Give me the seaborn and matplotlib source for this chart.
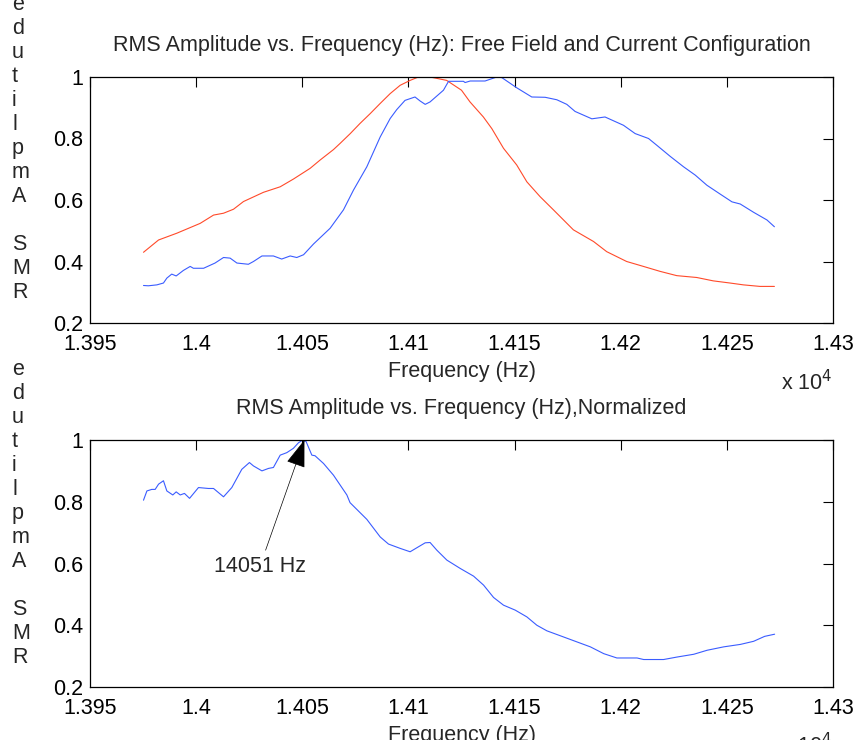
import numpy as np
import pandas as pd
import seaborn as sns
import matplotlib
matplotlib.use("Agg")
import matplotlib.pyplot as plt
from matplotlib.ticker import FixedLocator

# ---- data ----
red_f = [13975.2, 13982.3, 13990.9, 14001.9, 14008.2, 14012.9, 14017.6, 14022.3, 14031.7, 14039.6,
         14045.8, 14053.7, 14058.4, 14064.7, 14067.8, 14072.6, 14077.2, 14082.0, 14086.7, 14091.4,
         14096.1, 14100.8, 14104.7, 14110.2, 14118.0, 14125.0, 14129.0, 14135.3, 14139.3, 14144.8,
         14151.0, 14155.8, 14162.0, 14168.3, 14177.7, 14187.2, 14193.4, 14202.8, 14210.7, 14218.5,
         14226.4, 14235.8, 14243.6, 14251.5, 14257.8, 14265.6, 14272.4]
red_v = [0.430, 0.470, 0.492, 0.524, 0.551, 0.557, 0.570, 0.595, 0.625, 0.643,
         0.668, 0.703, 0.730, 0.764, 0.784, 0.816, 0.849, 0.881, 0.914, 0.946,
         0.973, 0.989, 1.000, 1.000, 0.989, 0.957, 0.919, 0.870, 0.832, 0.768,
         0.714, 0.659, 0.611, 0.568, 0.503, 0.465, 0.432, 0.400, 0.384, 0.368,
         0.354, 0.348, 0.337, 0.330, 0.324, 0.319, 0.319]

blue_f = [13975.2, 13977.5, 13981.5, 13984.6, 13986.2, 13988.5, 13990.6, 13994.0, 13997.2, 13998.7,
          14003.5, 14008.9, 14012.9, 14016.0, 14019.2, 14024.6, 14027.0, 14031.0, 14036.4, 14040.3,
          14044.3, 14047.4, 14050.6, 14055.3, 14063.1, 14069.4, 14074.1, 14080.4, 14086.7, 14091.4,
          14094.5, 14098.4, 14103.1, 14105.5, 14107.9, 14110.2, 14116.5, 14118.9, 14125.9, 14126.7,
          14129.1, 14136.1, 14141.6, 14144.0, 14151.0, 14158.1, 14164.4, 14169.9, 14174.6, 14178.5,
          14186.4, 14192.6, 14201.3, 14206.8, 14213.1, 14217.0, 14223.3, 14229.6, 14235.1, 14240.6,
          14246.9, 14252.4, 14256.3, 14262.6, 14268.9, 14272.4]
blue_v = [0.322, 0.321, 0.324, 0.330, 0.346, 0.359, 0.353, 0.371, 0.384, 0.378,
          0.378, 0.395, 0.413, 0.411, 0.395, 0.391, 0.400, 0.418, 0.418, 0.408,
          0.418, 0.413, 0.422, 0.457, 0.508, 0.568, 0.632, 0.708, 0.805, 0.865,
          0.894, 0.924, 0.935, 0.922, 0.911, 0.919, 0.957, 0.986, 0.986, 0.982,
          0.987, 0.987, 1.000, 0.998, 0.965, 0.935, 0.934, 0.926, 0.911, 0.888,
          0.864, 0.870, 0.843, 0.816, 0.800, 0.778, 0.742, 0.708, 0.681, 0.648,
          0.619, 0.594, 0.587, 0.560, 0.535, 0.513]

norm_f = [13975.2, 13976.8, 13979.1, 13980.7, 13982.3, 13984.6, 13986.2, 13989.0, 13990.6, 13992.5,
          13994.5, 13996.9, 14001.1, 14005.8, 14008.2, 14012.9, 14016.8, 14021.5, 14025.1, 14027.0,
          14031.0, 14034.1, 14036.4, 14039.6, 14042.7, 14045.8, 14048.2, 14050.2, 14051.8, 14054.5,
          14056.0, 14060.0, 14064.7, 14071.0, 14072.5, 14080.4, 14086.7, 14090.6, 14096.1, 14100.8,
          14104.7, 14107.9, 14110.2, 14113.4, 14118.1, 14124.4, 14130.7, 14135.4, 14140.1, 14144.8,
          14150.3, 14155.8, 14160.5, 14165.2, 14173.1, 14179.4, 14185.7, 14192.0, 14198.2, 14207.7,
          14210.8, 14220.2, 14226.5, 14234.4, 14240.7, 14248.5, 14256.4, 14262.6, 14267.8, 14272.5]
norm_v = [0.805, 0.835, 0.840, 0.840, 0.857, 0.868, 0.835, 0.822, 0.832, 0.822,
          0.827, 0.811, 0.846, 0.843, 0.843, 0.816, 0.846, 0.905, 0.927, 0.916,
          0.900, 0.908, 0.911, 0.951, 0.959, 0.973, 0.991, 1.000, 0.995, 0.951,
          0.949, 0.924, 0.886, 0.822, 0.797, 0.743, 0.686, 0.663, 0.649, 0.638,
          0.654, 0.667, 0.668, 0.643, 0.611, 0.584, 0.559, 0.530, 0.490, 0.465,
          0.449, 0.427, 0.400, 0.382, 0.362, 0.346, 0.330, 0.308, 0.294, 0.294,
          0.289, 0.289, 0.297, 0.306, 0.319, 0.330, 0.338, 0.348, 0.364, 0.371]

x_ticks = [13950, 14000, 14050, 14100, 14150, 14200, 14250, 14300]
x_tick_labels = ["1.395", "1.4", "1.405", "1.41", "1.415", "1.42", "1.425", "1.43"]
y_ticks = [0.2, 0.4, 0.6, 0.8, 1.0]
y_tick_labels = ["0.2", "0.4", "0.6", "0.8", "1"]

title_top = "RMS Amplitude vs. Frequency (Hz): Free Field and Current Configuration"
title_bot = "RMS Amplitude vs. Frequency (Hz),Normalized"
xlabel = "Frequency (Hz)"
ylabel = "RMS Amplitude"
peak_label = "14051 Hz"
peak_f, peak_v = 14051, 1.0

# ---- style ----
sns.set_style("white")
plt.rcParams["font.family"] = ["Liberation Sans", "DejaVu Sans"]
FS = 15.5
RED = "#FF4A2A"
BLUE = "#3A5CFF"

fig = plt.figure(figsize=(8.56, 7.4), dpi=100)
ax1 = fig.add_axes([90 / 856, 1 - 323 / 740, 743 / 856, 246 / 740])
ax2 = fig.add_axes([90 / 856, 1 - 687 / 740, 743 / 856, 247 / 740])

df_red = pd.DataFrame({"f": red_f, "v": red_v})
df_blue = pd.DataFrame({"f": blue_f, "v": blue_v})
df_norm = pd.DataFrame({"f": norm_f, "v": norm_v})

sns.lineplot(data=df_red, x="f", y="v", ax=ax1, color=RED, lw=0.8, sort=False)
sns.lineplot(data=df_blue, x="f", y="v", ax=ax1, color=BLUE, lw=0.8, sort=False)
sns.lineplot(data=df_norm, x="f", y="v", ax=ax2, color=BLUE, lw=0.8, sort=False)

for ax, title in ((ax1, title_top), (ax2, title_bot)):
    ax.set_xlim(x_ticks[0], x_ticks[-1])
    ax.set_ylim(0.2, 1.0)
    ax.xaxis.set_major_locator(FixedLocator(x_ticks))
    ax.set_xticklabels(x_tick_labels)
    ax.yaxis.set_major_locator(FixedLocator(y_ticks))
    ax.set_yticklabels(y_tick_labels)
    ax.tick_params(direction="in", length=7, width=0.8, top=True, right=True,
                   labelsize=FS, colors="black")
    ax.tick_params(axis="x", pad=8)
    ax.tick_params(axis="y", pad=5)
    for s in ax.spines.values():
        s.set_color("black")
        s.set_linewidth(0.9)
    ax.set_title(title, fontsize=FS, pad=19)
    ax.set_xlabel(xlabel, fontsize=FS, labelpad=4)
    ax.set_ylabel("")

# stacked (reversed) y-axis labels as in the original rendering
stack = "\n".join(reversed(ylabel))
fig.text(12 / 856, 1 - 303 / 740, stack, fontsize=FS, ha="left", va="bottom",
         linespacing=1.19)
fig.text(12 / 856, 1 - 668 / 740, stack, fontsize=FS, ha="left", va="bottom",
         linespacing=1.19)

# exponent labels
fig.text(781 / 856, 1 - 390 / 740, r"x 10$^{4}$", fontsize=FS, ha="left", va="baseline")
fig.text(781 / 856, 1 - 753 / 740, r"x 10$^{4}$", fontsize=FS, ha="left", va="baseline")

ax2.annotate(peak_label, xy=(peak_f, peak_v), xytext=(14030, 0.59),
             fontsize=FS, ha="center", va="center",
             arrowprops=dict(arrowstyle="-|>,head_length=0.8,head_width=0.28",
                             color="black", lw=0.5,
                             mutation_scale=22, shrinkA=2, shrinkB=0))

fig.savefig("out.png", dpi=100)
